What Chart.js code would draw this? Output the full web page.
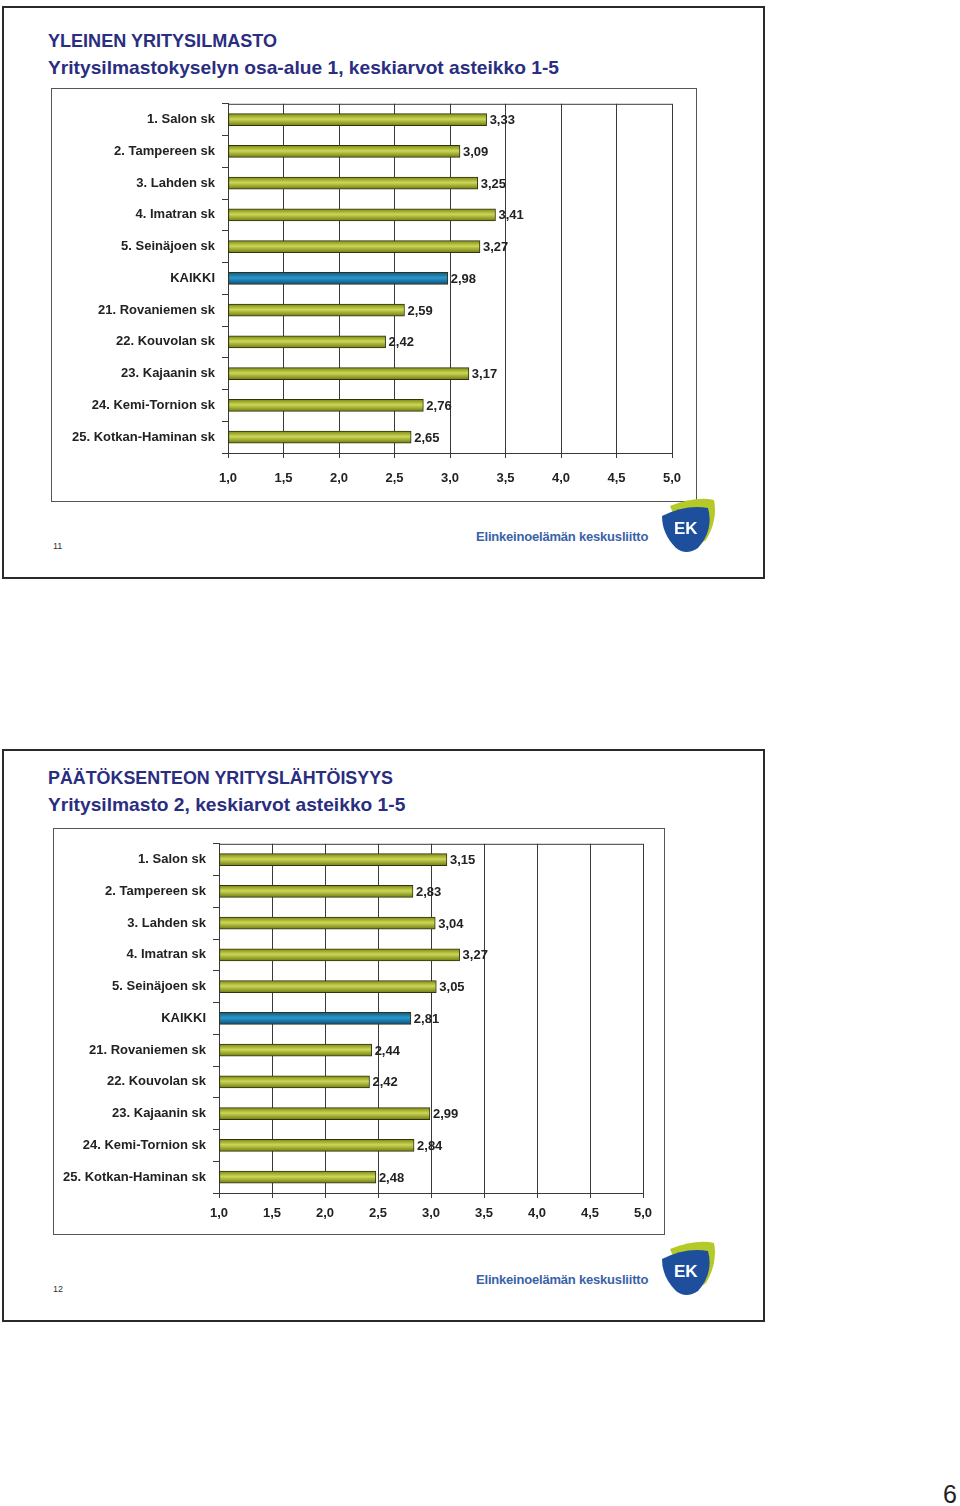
<!DOCTYPE html>
<html>
<head>
<meta charset="utf-8">
<script src="https://cdn.jsdelivr.net/npm/chart.js@4.4.1/dist/chart.umd.min.js"></script>
<style>
  body { margin: 0; background: #fff; font-family: "Liberation Sans", Arial, sans-serif; }
  .page { position: relative; width: 960px; height: 1506px; overflow: hidden; }
  .slide { position: absolute; left: 2px; width: 759px; height: 569px; border: 2px solid #2a2a2a; box-sizing: content-box; }
  .title { position: absolute; left: 44px; color: #2a2d80; font-size: 19px; font-weight: bold; white-space: nowrap; transform-origin: left center; }
  .frame { position: absolute; border: 1px solid #555; }
  .frame canvas { position: absolute; left: 0; top: 0; }
  .num { position: absolute; left: 49px; font-size: 9px; color: #333; }
  .brand { position: absolute; left: 472px; font-size: 13px; color: #3a62a8; font-weight: bold; letter-spacing: -0.2px; }
  .logo { position: absolute; left: 652px; }
  .pageno { position: absolute; right: 3px; top: 1480px; font-size: 25px; color: #222; }
</style>
</head>
<body>
<div class="page">
  <div class="slide" style="top:6px">
    <div class="title" style="top:22px; transform:scaleX(0.95)">YLEINEN YRITYSILMASTO</div>
    <div class="title" style="top:49px; transform:scaleX(1.01)">Yritysilmastokyselyn osa-alue 1, keskiarvot asteikko 1-5</div>
    <div class="frame" style="left:47px; top:80px; width:644px; height:412px">
      <canvas id="chart1" width="644" height="412"></canvas>
    </div>
    <div class="num" style="top:533px">11</div>
    <div class="brand" style="top:521px">Elinkeinoelämän keskusliitto</div>
    <svg class="logo" style="top:488px" width="64" height="60" viewBox="0 0 64 60">
      <path d="M14 10 Q40 0 58 4 Q62 24 50 44 Q40 52 30 48 Z" fill="#b5c928"/>
      <path d="M6 20 Q30 8 52 12 Q58 34 42 52 Q30 60 20 52 Q6 38 6 20 Z" fill="#1d4f9c"/>
      <text x="18" y="38" fill="#fff" font-size="17" font-weight="bold" font-family="Liberation Sans, Arial">EK</text>
    </svg>
  </div>

  <div class="slide" style="top:749px">
    <div class="title" style="top:16px; transform:scaleX(0.94)">PÄÄTÖKSENTEON YRITYSLÄHTÖISYYS</div>
    <div class="title" style="top:43px; transform:scaleX(1.01)">Yritysilmasto 2, keskiarvot asteikko 1-5</div>
    <div class="frame" style="left:49px; top:77px; width:610px; height:405px">
      <canvas id="chart2" width="610" height="405"></canvas>
    </div>
    <div class="num" style="top:533px">12</div>
    <div class="brand" style="top:521px">Elinkeinoelämän keskusliitto</div>
    <svg class="logo" style="top:488px" width="64" height="60" viewBox="0 0 64 60">
      <path d="M14 10 Q40 0 58 4 Q62 24 50 44 Q40 52 30 48 Z" fill="#b5c928"/>
      <path d="M6 20 Q30 8 52 12 Q58 34 42 52 Q30 60 20 52 Q6 38 6 20 Z" fill="#1d4f9c"/>
      <text x="18" y="38" fill="#fff" font-size="17" font-weight="bold" font-family="Liberation Sans, Arial">EK</text>
    </svg>
  </div>

  <div class="pageno">6</div>
</div>

<script>
const categories = ['1. Salon sk', '2. Tampereen sk', '3. Lahden sk', '4. Imatran sk', '5. Seinäjoen sk', 'KAIKKI',
  '21. Rovaniemen sk', '22. Kouvolan sk', '23. Kajaanin sk', '24. Kemi-Tornion sk', '25. Kotkan-Haminan sk'];
const climateValues = [3.33, 3.09, 3.25, 3.41, 3.27, 2.98, 2.59, 2.42, 3.17, 2.76, 2.65];
const decisionValues = [3.15, 2.83, 3.04, 3.27, 3.05, 2.81, 2.44, 2.42, 2.99, 2.84, 2.48];
const xTickLabels = ['1,0', '1,5', '2,0', '2,5', '3,0', '3,5', '4,0', '4,5', '5,0'];
const totalLabel = 'KAIKKI';

const fmt = v => v.toFixed(2).replace('.', ',');
const labelFont = { size: 13, weight: 'bold', family: '"Liberation Sans", Arial' };

// vertical gradient per bar, like the old excel 3d-ish bars
function barFill(c) {
  const chart = c.chart;
  const y = chart.scales.y;
  const blue = categories[c.dataIndex] === totalLabel;
  if (!y || y.top === undefined) return blue ? '#1a7fb2' : '#b3bf32';
  const yc = y.getPixelForValue(c.dataIndex);
  const g = chart.ctx.createLinearGradient(0, yc - 6, 0, yc + 6);
  if (blue) {
    g.addColorStop(0, '#0e5a86');
    g.addColorStop(0.45, '#2a98cc');
    g.addColorStop(1, '#0c4f78');
  } else {
    g.addColorStop(0, '#7c8a14');
    g.addColorStop(0.45, '#cdd756');
    g.addColorStop(1, '#6f7c10');
  }
  return g;
}

const valueLabels = {
  id: 'valueLabels',
  afterDatasetsDraw(chart) {
    const ctx = chart.ctx;
    const meta = chart.getDatasetMeta(0);
    const data = chart.data.datasets[0].data;
    ctx.save();
    ctx.font = 'bold 13px "Liberation Sans", Arial';
    ctx.fillStyle = '#222';
    ctx.textBaseline = 'middle';
    meta.data.forEach((bar, i) => {
      ctx.fillText(fmt(data[i]), bar.x + 3, bar.y + 1);
    });
    ctx.restore();
  }
};

const topLine = {
  id: 'topLine',
  afterDraw(chart) {
    const a = chart.chartArea;
    const ctx = chart.ctx;
    ctx.save();
    ctx.strokeStyle = '#3a3a3a';
    ctx.lineWidth = 1;
    ctx.beginPath();
    ctx.moveTo(a.left, a.top + 0.5);
    ctx.lineTo(a.right, a.top + 0.5);
    ctx.stroke();
    ctx.restore();
  }
};

function makeChart(id, values, yWidth, xHeight, topPad, rightPad, xPad) {
  return new Chart(document.getElementById(id), {
    type: 'bar',
    data: {
      labels: categories,
      datasets: [{
        data: values,
        base: 1,
        backgroundColor: barFill,
        borderColor: '#333310',
        borderWidth: 1,
        borderSkipped: false,
        barThickness: 12
      }]
    },
    options: {
      indexAxis: 'y',
      responsive: false,
      animation: false,
      layout: { padding: { top: topPad, right: rightPad, left: 0, bottom: 0 } },
      plugins: { legend: { display: false }, tooltip: { enabled: false } },
      scales: {
        x: {
          min: 1,
          max: 5,
          afterFit: s => { s.height = xHeight; },
          afterBuildTicks: s => { s.ticks = xTickLabels.map((t, i) => ({ value: 1 + i * 0.5 })); },
          ticks: {
            callback: (v, i) => xTickLabels[i],
            color: '#222',
            font: labelFont,
            padding: xPad,
            maxRotation: 0
          },
          grid: { color: '#3a3a3a', tickLength: 5, lineWidth: 1 },
          border: { color: '#3a3a3a' }
        },
        y: {
          afterFit: s => { s.width = yWidth; },
          ticks: {
            color: '#222',
            font: labelFont,
            padding: 7
          },
          grid: { drawOnChartArea: false, color: '#3a3a3a', tickLength: 6, offset: true },
          border: { color: '#3a3a3a' }
        }
      }
    },
    plugins: [valueLabels, topLine]
  });
}

makeChart('chart1', climateValues, 176, 48, 8, 24, 13);
makeChart('chart2', decisionValues, 165, 41, 7, 21, 8);
</script>
</body>
</html>
